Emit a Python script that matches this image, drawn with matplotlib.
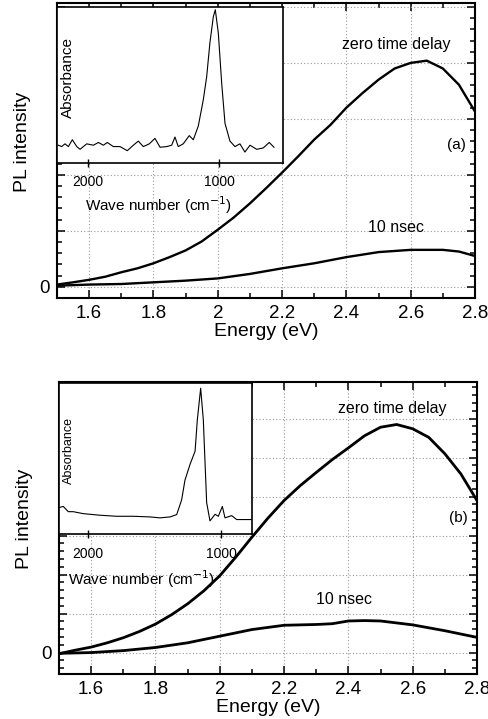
import matplotlib

matplotlib.use("Agg")
import matplotlib.pyplot as plot
from matplotlib.transforms import IdentityTransform
from matplotlib.ticker import MultipleLocator, FormatStrFormatter

plot.rcParams["font.family"] = ["Liberation Sans", "DejaVu Sans"]

# -----------------------------------------------------------------------------
# panel (a) PL spectra
energy_a = [1.5, 1.55, 1.6, 1.65, 1.7, 1.75, 1.8, 1.85, 1.9, 1.95, 2.0, 2.05,
            2.1, 2.15, 2.2, 2.25, 2.3, 2.35, 2.4, 2.45, 2.5, 2.55, 2.6, 2.65,
            2.7, 2.75, 2.8]
zero_a = [0.04, 0.08, 0.125, 0.18, 0.26, 0.33, 0.42, 0.53, 0.65, 0.81, 1.02,
          1.24, 1.49, 1.76, 2.04, 2.33, 2.63, 2.89, 3.2, 3.46, 3.7, 3.9, 4.0,
          4.04, 3.9, 3.61, 3.13]
energy_a10 = [1.5, 1.6, 1.7, 1.8, 1.9, 2.0, 2.1, 2.2, 2.3, 2.4, 2.5, 2.6,
              2.7, 2.75, 2.8]
nsec_a = [0.02, 0.04, 0.05, 0.08, 0.11, 0.15, 0.23, 0.33, 0.42, 0.53, 0.62,
          0.66, 0.66, 0.63, 0.55]

# panel (a) inset absorbance
wn_a = [2227, 2201, 2176, 2150, 2120, 2086, 2061, 2010, 1959, 1921, 1883,
        1853, 1807, 1756, 1700, 1654, 1616, 1578, 1532, 1489, 1450, 1399,
        1361, 1336, 1311, 1273, 1227, 1196, 1158, 1120, 1094, 1069, 1043,
        1028, 1005, 979, 954, 916, 878, 840, 802, 763, 712, 662, 616, 580]
abs_a = [0.01, 0.0, 0.02, 0.0, 0.05, 0.0, -0.02, 0.02, 0.01, 0.03, 0.01,
         0.03, 0.0, 0.0, -0.03, 0.01, 0.04, 0.0, 0.02, 0.06, -0.005, 0.0,
         0.01, 0.07, 0.0, 0.02, 0.08, 0.05, 0.15, 0.34, 0.51, 0.76, 0.95,
         1.0, 0.83, 0.46, 0.17, 0.04, 0.0, 0.02, -0.04, 0.01, -0.02, -0.01,
         0.03, -0.005]

# panel (b) PL spectra
energy_b = [1.5, 1.55, 1.6, 1.65, 1.7, 1.75, 1.8, 1.85, 1.9, 1.95, 2.0, 2.05,
            2.1, 2.15, 2.2, 2.25, 2.3, 2.35, 2.4, 2.45, 2.5, 2.55, 2.6, 2.65,
            2.7, 2.75, 2.8]
zero_b = [-0.03, 0.06, 0.14, 0.25, 0.38, 0.54, 0.73, 0.97, 1.25, 1.58, 1.97,
          2.45, 2.96, 3.45, 3.9, 4.28, 4.62, 4.95, 5.25, 5.56, 5.78, 5.85,
          5.74, 5.52, 5.1, 4.58, 3.9]
energy_b10 = [1.5, 1.6, 1.7, 1.8, 1.9, 2.0, 2.1, 2.2, 2.3, 2.35, 2.4, 2.45,
              2.5, 2.6, 2.7, 2.8]
nsec_b = [-0.02, 0.0, 0.05, 0.13, 0.25, 0.42, 0.59, 0.7, 0.72, 0.74, 0.81,
          0.82, 0.81, 0.71, 0.56, 0.39]

# panel (b) inset absorbance
wn_b = [2223, 2186, 2148, 2111, 2036, 1910, 1784, 1659, 1534, 1459, 1383,
        1333, 1296, 1271, 1233, 1195, 1178, 1153, 1133, 1108, 1083, 1045,
        1020, 990, 970, 920, 882, 770]
abs_b = [0.09, 0.1, 0.06, 0.06, 0.045, 0.033, 0.025, 0.025, 0.02, 0.013,
         0.02, 0.038, 0.15, 0.3, 0.42, 0.52, 0.76, 1.0, 0.76, 0.13, -0.01,
         0.04, 0.025, 0.1, 0.013, 0.03, 0.0, 0.0]

# -----------------------------------------------------------------------------

W, H = 489, 719
fig = plot.figure(figsize=(W / 100, H / 100), dpi=100)


def frac(x0, x1, y0, y1):
    # pixel box (from top-left) -> figure fraction
    return [x0 / W, 1 - y1 / H, (x1 - x0) / W, (y1 - y0) / H]


def label(ax, x, y, text, size=11.5):
    # text placed at pixel position measured from the top-left corner
    ax.text(x, H - y, text, fontsize=size, ha="center", va="center",
            transform=IdentityTransform())


def main_axes(box, ylim, ymax_grid):
    ax = fig.add_axes(frac(*box))
    ax.set_xlim(1.5, 2.8)
    ax.set_ylim(*ylim)
    ax.xaxis.set_major_locator(MultipleLocator(0.2))
    ax.xaxis.set_minor_locator(MultipleLocator(0.1))
    ax.xaxis.set_major_formatter(FormatStrFormatter("%g"))
    ax.set_yticks(range(0, ymax_grid + 1))
    ax.set_yticklabels(["0"] + [""] * ymax_grid)
    ax.yaxis.set_minor_locator(MultipleLocator(0.2))
    ax.tick_params(which="both", direction="in", top=True, right=True,
                   labelsize=13.5, width=1.1)
    ax.tick_params(which="major", length=6, pad=5)
    ax.tick_params(which="minor", length=3.5)
    ax.grid(True, which="major", color="#999999", linestyle=(0, (1, 2)),
            linewidth=0.8)
    for s in ax.spines.values():
        s.set_linewidth(1.5)
    ax.set_xlabel("Energy (eV)", fontsize=14, labelpad=1)
    ax.set_ylabel("PL intensity", fontsize=14)
    ax.yaxis.set_label_coords(-0.062, 0.53)
    return ax


def inset_axes(box, xlim, ylim, absfont):
    ax = fig.add_axes(frac(*box))
    ax.set_xlim(*xlim)
    ax.set_ylim(*ylim)
    ax.set_xticks([2000, 1000])
    ax.set_yticks([])
    ax.tick_params(direction="inout", length=6, labelsize=10, pad=6,
                   width=1.0)
    for s in ax.spines.values():
        s.set_linewidth(1.2)
    ax.set_xlabel("Wave number (cm$^{-1}$)", fontsize=11)
    ax.text(0.05, 0.55, "Absorbance", rotation=90, ha="center",
            va="center", fontsize=absfont, transform=ax.transAxes)
    return ax


# ---- (a)
ax = main_axes((57, 475, 3, 298), (-0.2, 5.07), 5)
ax.plot(energy_a, zero_a, "k-", lw=1.7)
ax.plot(energy_a10, nsec_a, "k-", lw=1.7)
label(ax, 396, 45, "zero time delay")
label(ax, 396, 228, "10 nsec")
ax.text(0.955, 0.519, "(a)", fontsize=11, ha="center", va="center",
        transform=ax.transAxes)

ins = inset_axes((57, 283, 7, 163), (2237, 511), (-0.12, 1.02), 11)
ins.plot(wn_a, abs_a, "k-", lw=0.8)
ins.xaxis.set_label_coords(0.45, -0.2)

# ---- (b)
ax = main_axes((59, 477, 382, 674), (-0.55, 6.94), 6)
ax.plot(energy_b, zero_b, "k-", lw=2.0)
ax.plot(energy_b10, nsec_b, "k-", lw=2.0)
label(ax, 392, 409, "zero time delay")
label(ax, 344, 600, "10 nsec")
ax.text(0.955, 0.534, "(b)", fontsize=11, ha="center", va="center",
        transform=ax.transAxes)

ins = inset_axes((59, 252, 383, 534), (2218, 767), (-0.11, 1.04), 9)
ins.plot(wn_b, abs_b, "k-", lw=0.8)
ins.xaxis.set_label_coords(0.43, -0.23)

fig.savefig("out.png", dpi=100)
